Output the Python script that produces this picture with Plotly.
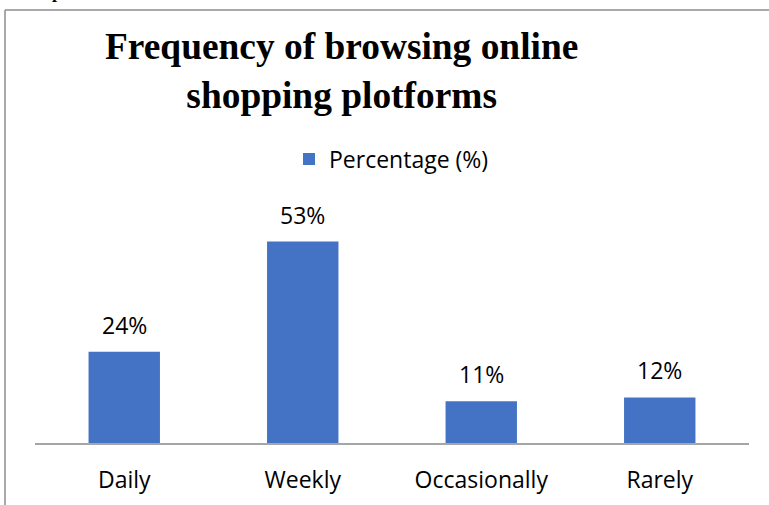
import plotly.graph_objects as go

categories = ["Daily", "Weekly", "Occasionally", "Rarely"]
percentages = [24, 53, 11, 12]
label_texts = ["24%", "53%", "11%", "12%"]
series_name = "Percentage (%)"

BAR_COLOR = "#4472C4"
TEXT_FONT = "Open Sans"
TEXT_SIZE = 23

# plot area in pixels: x 35..749, y 215..443
L, R, T, B = 35, 20, 215, 62
W, H = 769, 505
pw, ph = W - L - R, H - T - B


def px_x(x):
    return (x - L) / pw


def px_y(y):
    return (H - B - y) / ph


fig = go.Figure()
fig.add_trace(go.Bar(
    x=categories, y=percentages, name=series_name,
    marker=dict(color=BAR_COLOR, line=dict(width=0)),
    showlegend=True,
))

annotations = []
for cat, val, txt in zip(categories, percentages, label_texts):
    annotations.append(dict(
        x=cat, y=val, xref="x", yref="y", text=txt, showarrow=False,
        yanchor="bottom", yshift=9,
        font=dict(family=TEXT_FONT, size=TEXT_SIZE, color="#000000"),
    ))

annotations.append(dict(
    x=px_x(341.5), y=px_y(71), xref="paper", yref="paper",
    text="<b>Frequency of browsing online<br>shopping plotforms</b>",
    showarrow=False, xanchor="center", yanchor="middle", align="center",
    font=dict(family="Liberation Serif", size=37.4, color="#000000"),
))
annotations.append(dict(
    x=px_x(57), y=px_y(-8), xref="paper", yref="paper", text="<b>p</b>",
    showarrow=False, xanchor="center", yanchor="middle",
    font=dict(family="Liberation Serif", size=18, color="#000000"),
))

gray = "#8C8C8C"
shapes = [
    dict(type="line", xref="paper", yref="paper",
         x0=px_x(5), x1=px_x(5), y0=px_y(10), y1=px_y(510),
         line=dict(color=gray, width=1.5)),
    dict(type="line", xref="paper", yref="paper",
         x0=px_x(5), x1=px_x(775), y0=px_y(10), y1=px_y(10),
         line=dict(color=gray, width=1.5)),
]

fig.update_layout(
    width=W, height=H,
    margin=dict(l=L, r=R, t=T, b=B, pad=0, autoexpand=False),
    paper_bgcolor="white", plot_bgcolor="white",
    bargap=0.6,
    annotations=annotations,
    shapes=shapes,
    legend=dict(
        x=px_x(289), y=px_y(159), xanchor="left", yanchor="middle",
        orientation="h", bgcolor="rgba(0,0,0,0)",
        font=dict(family=TEXT_FONT, size=TEXT_SIZE, color="#000000"),
        itemwidth=30,
    ),
    xaxis=dict(
        showline=True, linecolor="#A6A6A6", linewidth=1.5,
        ticks="", showgrid=False, zeroline=False, automargin=False,
        tickfont=dict(family=TEXT_FONT, size=TEXT_SIZE, color="#000000"),
        ticklabelstandoff=16,
    ),
    yaxis=dict(
        range=[0, 60], visible=False, showgrid=False, zeroline=False,
        automargin=False,
    ),
)

fig.write_html("out.html")
